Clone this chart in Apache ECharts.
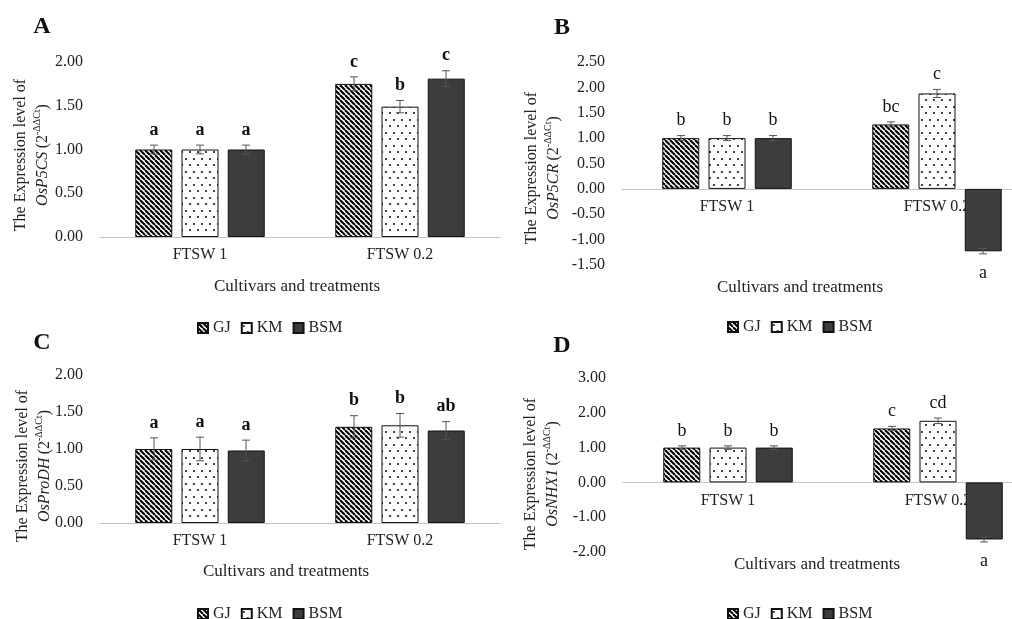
<!DOCTYPE html>
<html>
<head>
<meta charset="utf-8">
<script src="https://cdn.jsdelivr.net/npm/echarts@6/dist/echarts.min.js"></script>
<style>
  html, body { margin: 0; padding: 0; background: #fff; }
  #main { width: 1012px; height: 619px; }
</style>
</head>
<body>
<div id="main"></div>
<script>
'use strict';
var categories = ['FTSW 1', 'FTSW 0.2'];
var cultivars = ['GJ', 'KM', 'BSM'];

// A: OsP5CS  (rows: GJ, KM, BSM; columns: FTSW 1, FTSW 0.2)
var p5csMean = [[1.00, 1.75], [1.00, 1.49], [1.00, 1.81]];
var p5csErr = [[0.05, 0.08], [0.05, 0.07], [0.05, 0.09]];
var p5csSig = [['a', 'c'], ['a', 'b'], ['a', 'c']];
var p5csTicks = [0, 2, 0.5];

// B: OsP5CR
var p5crMean = [[1.00, 1.27], [1.00, 1.88], [1.00, -1.23]];
var p5crErr = [[0.05, 0.05], [0.05, 0.08], [0.05, 0.05]];
var p5crSig = [['b', 'bc'], ['b', 'c'], ['b', 'a']];
var p5crTicks = [-1.5, 2.5, 0.5];

// C: OsProDH
var prodhMean = [[1.00, 1.30], [1.00, 1.32], [0.98, 1.25]];
var prodhErr = [[0.15, 0.15], [0.16, 0.16], [0.14, 0.12]];
var prodhSig = [['a', 'b'], ['a', 'b'], ['a', 'ab']];
var prodhTicks = [0, 2, 0.5];

// D: OsNHX1
var nhx1Mean = [[1.00, 1.55], [1.00, 1.77], [1.00, -1.64]];
var nhx1Err = [[0.05, 0.06], [0.05, 0.08], [0.05, 0.07]];
var nhx1Sig = [['b', 'c'], ['b', 'cd'], ['b', 'a']];
var nhx1Ticks = [-2, 3, 1];

var SERIF = '"Liberation Serif", "DejaVu Serif", serif';
var BAR_W = 37, BAR_STEP = 46;

// hatch fills
function stripes() {
	var s = 5, c = document.createElement('canvas');
	c.width = c.height = s;
	var g = c.getContext('2d');
	g.fillStyle = '#fff'; g.fillRect(0, 0, s, s);
	g.strokeStyle = '#000'; g.lineWidth = 2.1;
	[-s, 0, s].forEach(function (k) {
		g.beginPath(); g.moveTo(k, 0); g.lineTo(k + s, s); g.stroke();
	});
	return { image: c, repeat: 'repeat' };
}
function dots() {
	var c = document.createElement('canvas');
	c.width = 8; c.height = 13;
	var g = c.getContext('2d');
	g.fillStyle = '#fff'; g.fillRect(0, 0, 8, 13);
	g.fillStyle = '#444';
	g.fillRect(1, 2, 2, 2);
	g.fillRect(5, 8, 2, 2);
	return { image: c, repeat: 'repeat' };
}
var fills = [stripes(), dots(), '#3d3d3d'];

var panels = [
	{ mean: p5csMean, err: p5csErr, sig: p5csSig, ticks: p5csTicks, gene: 'OsP5CS', bold: true,
		grid: { left: 100, top: 62, width: 400, height: 175 }, tag: ['A', 42, 27], yName: [32, 155], xName: [297, 287], legend: [197, 320] },
	{ mean: p5crMean, err: p5crErr, sig: p5crSig, ticks: p5crTicks, gene: 'OsP5CR', bold: false,
		grid: { left: 622, top: 62, width: 420, height: 203 }, tag: ['B', 562, 28], yName: [543, 168], xName: [800, 288], legend: [727, 319] },
	{ mean: prodhMean, err: prodhErr, sig: prodhSig, ticks: prodhTicks, gene: 'OsProDH', bold: true,
		grid: { left: 100, top: 375, width: 400, height: 148 }, tag: ['C', 42, 343], yName: [34, 466], xName: [286, 572], legend: [197, 606] },
	{ mean: nhx1Mean, err: nhx1Err, sig: nhx1Sig, ticks: nhx1Ticks, gene: 'OsNHX1', bold: false,
		grid: { left: 623, top: 378, width: 420, height: 174 }, tag: ['D', 562, 346], yName: [542, 474], xName: [817, 565], legend: [727, 606] }
];

function errSeries(p, i) {
	var data = [], sig = [];
	for (var s = 0; s < 3; s++) {
		for (var c = 0; c < 2; c++) {
			data.push([c, p.mean[s][c], p.err[s][c], s]);
			sig.push(p.sig[s][c]);
		}
	}
	var line = { stroke: '#555', lineWidth: 1 };
	return {
		type: 'custom', name: 'err' + i, xAxisIndex: i, yAxisIndex: i, z: 5,
		data: data, encode: { x: 0, y: 1 },
		renderItem: function (params, api) {
			var c = api.value(0), m = api.value(1), e = api.value(2), s = api.value(3);
			var x = api.coord([c, m])[0] + (s - 1) * BAR_STEP;
			var yHi = api.coord([c, m + e])[1], yLo = api.coord([c, m - e])[1];
			var neg = m < 0;
			return {
				type: 'group',
				children: [
					{ type: 'line', shape: { x1: x, y1: yHi, x2: x, y2: yLo }, style: line },
					{ type: 'line', shape: { x1: x - 4, y1: yHi, x2: x + 4, y2: yHi }, style: line },
					{ type: 'line', shape: { x1: x - 4, y1: yLo, x2: x + 4, y2: yLo }, style: line },
					{ type: 'text', style: {
						text: sig[params.dataIndex], x: x, y: neg ? yLo + 10 : yHi - 6,
						align: 'center', verticalAlign: neg ? 'top' : 'bottom',
						font: (p.bold ? 'bold ' : '') + '18px ' + SERIF, fill: '#111'
					} }
				]
			};
		}
	};
}

var option = {
	backgroundColor: '#fff',
	animation: false,
	grid: [], xAxis: [], yAxis: [], legend: [], series: [], graphic: []
};

panels.forEach(function (p, i) {
	// x axis sits on the zero line; labels go with it
	var zeroDrop = p.grid.height * (0 - p.ticks[0]) / (p.ticks[1] - p.ticks[0]);
	option.grid.push(Object.assign({ outerBoundsMode: 'none' }, p.grid));
	option.xAxis.push({
		type: 'category', gridIndex: i, data: categories,
		offset: -zeroDrop,
		axisLine: { onZero: false, lineStyle: { color: '#c4c4c4', width: 1 } },
		axisTick: { show: false },
		axisLabel: { fontFamily: SERIF, fontSize: 16, color: '#222', margin: 10 }
	});
	option.yAxis.push({
		type: 'value', gridIndex: i, min: p.ticks[0], max: p.ticks[1], interval: p.ticks[2],
		axisLine: { show: false }, axisTick: { show: false }, splitLine: { show: false },
		axisLabel: { fontFamily: SERIF, fontSize: 16, color: '#222', margin: 17,
			formatter: function (v) { return v.toFixed(2); } }
	});
	cultivars.forEach(function (name, s) {
		option.series.push({
			type: 'bar', name: name, xAxisIndex: i, yAxisIndex: i,
			data: p.mean[s], barWidth: BAR_W, barGap: '25%',
			itemStyle: { color: fills[s], borderColor: '#111', borderWidth: 1 },
			emphasis: { disabled: true }
		});
	});
	option.series.push(errSeries(p, i));
	option.legend.push({
		data: cultivars, left: p.legend[0], top: p.legend[1], icon: 'rect', padding: 0,
		itemWidth: 10, itemHeight: 10, itemGap: 10, selectedMode: false,
		textStyle: { fontFamily: SERIF, fontSize: 16, color: '#222' }
	});
	option.graphic.push({
		type: 'text', x: p.tag[1], y: p.tag[2],
		style: { text: p.tag[0], font: 'bold 24px ' + SERIF, fill: '#111', align: 'center', verticalAlign: 'middle' }
	});
	option.graphic.push({
		type: 'text', x: p.xName[0], y: p.xName[1],
		style: { text: 'Cultivars and treatments', font: '17px ' + SERIF, fill: '#222', align: 'center', verticalAlign: 'middle' }
	});
	option.graphic.push({
		type: 'text', x: p.yName[0], y: p.yName[1], rotation: Math.PI / 2,
		style: {
			text: '{n|The Expression level of}\n{i|' + p.gene + '} {n|(2}{s|-ΔΔCt}{n|)}',
			align: 'center', verticalAlign: 'middle', fill: '#222',
			rich: {
				n: { fontFamily: SERIF, fontSize: 16, lineHeight: 22, fill: '#222' },
				i: { fontFamily: SERIF, fontSize: 16, fontStyle: 'italic', lineHeight: 22, fill: '#222' },
				s: { fontFamily: SERIF, fontSize: 10, lineHeight: 22, fill: '#222', verticalAlign: 'top', padding: [0, 0, 6, 0] }
			}
		}
	});
});

echarts.init(document.getElementById('main')).setOption(option);
</script>
</body>
</html>
